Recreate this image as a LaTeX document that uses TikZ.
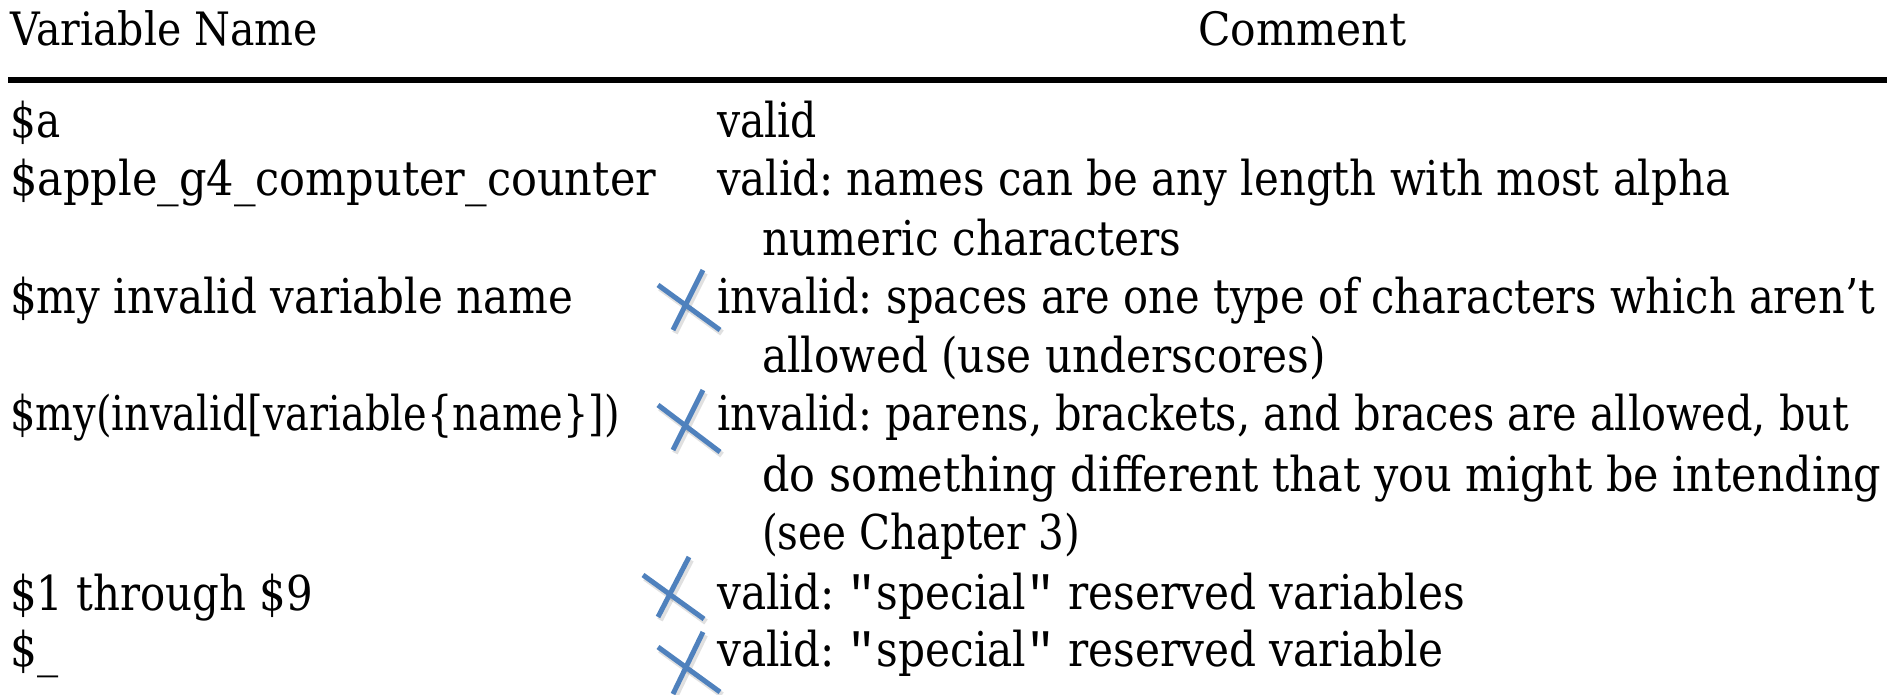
\documentclass[tikz,border=0pt]{standalone}
\usepackage{graphicx}
\usepackage{fontspec}
\setmainfont[FakeStretch=0.88]{DejaVu Serif}
\newfontfamily\qfont{Liberation Mono}
\definecolor{xblue}{RGB}{79,129,189}
\newcommand{\qq}{{\qfont"}}
\newcommand{\fw}[2]{\resizebox{#1pt}{\height}{#2}}
\begin{document}
\frenchspacing
\begin{tikzpicture}[x=1pt,y=-1pt,
  txt/.style={anchor=base west, inner sep=0pt, font=\fontsize{48}{58}\selectfont},
  hdr/.style={anchor=base west, inner sep=0pt, font=\fontsize{46}{56}\selectfont},
  xmark/.style={line width=5pt, xblue},
  xshadow/.style={line width=6pt, black, opacity=0.12}]
\useasboundingbox (0,0) rectangle (1887,694);
% header
\node[hdr] (h1) at (10,45) {\fw{308}{Variable Name}};
\node[hdr] (h2) at (1198,45) {\fw{208}{Comment}};
\draw[line width=6pt] (8,80) -- (1887,80);
% left column
\node[txt] (v1) at (10,137) {\fw{50}{\$a}};
\node[txt] (v2) at (10,195) {\fw{646}{\$apple\_g4\_computer\_counter}};
\node[txt] (v3) at (10,313) {\fw{563}{\$my invalid variable name}};
\node[txt] (v4) at (10,430) {\fw{610}{\$my(invalid[variable\{name\}])}};
\node[txt] (v5) at (10,610) {\fw{303}{\$1 through \$9}};
\node[txt] (v6) at (10,666) {\fw{48}{\$\_}};
% comment column
\node[txt] (c1) at (717,137) {\fw{100}{valid}};
\node[txt] (c2) at (717,195) {\fw{1013}{valid: names can be any length with most alpha}};
\node[txt] (c2b) at (762,255) {numeric characters};
\node[txt] (c3) at (717,313) {\fw{1158}{invalid: spaces are one type of characters which aren’t}};
\node[txt] (c3b) at (762,372) {allowed (use underscores)};
\node[txt] (c4) at (717,430) {\fw{1132}{invalid: parens, brackets, and braces are allowed, but}};
\node[txt] (c4b) at (762,491) {\fw{1119}{do something different that you might be intending}};
\node[txt] (c4c) at (762,549) {\fw{318}{(see Chapter 3)}};
\node[txt] (c5) at (717,609) {valid: \qq special\qq\ reserved variables};
\node[txt] (c6) at (717,666) {valid: \qq special\qq\ reserved variable};
% crosses (shadow then mark)
\foreach \ax/\ay/\bx/\by/\cx/\cy/\dx/\dy in {
  658/285/720/330/703/270/673/330,
  658/405/720/452/703/390/673/450,
  643/575/704/619/689/557/658/617,
  658/647/720/692/703/632/673/694}{
  \draw[xshadow] (\ax+2,\ay+3) -- (\bx+2,\by+3);
  \draw[xshadow] (\cx+2,\cy+3) -- (\dx+2,\dy+3);
  \draw[xmark] (\ax,\ay) -- (\bx,\by);
  \draw[xmark] (\cx,\cy) -- (\dx,\dy);
}
\end{tikzpicture}
\end{document}
